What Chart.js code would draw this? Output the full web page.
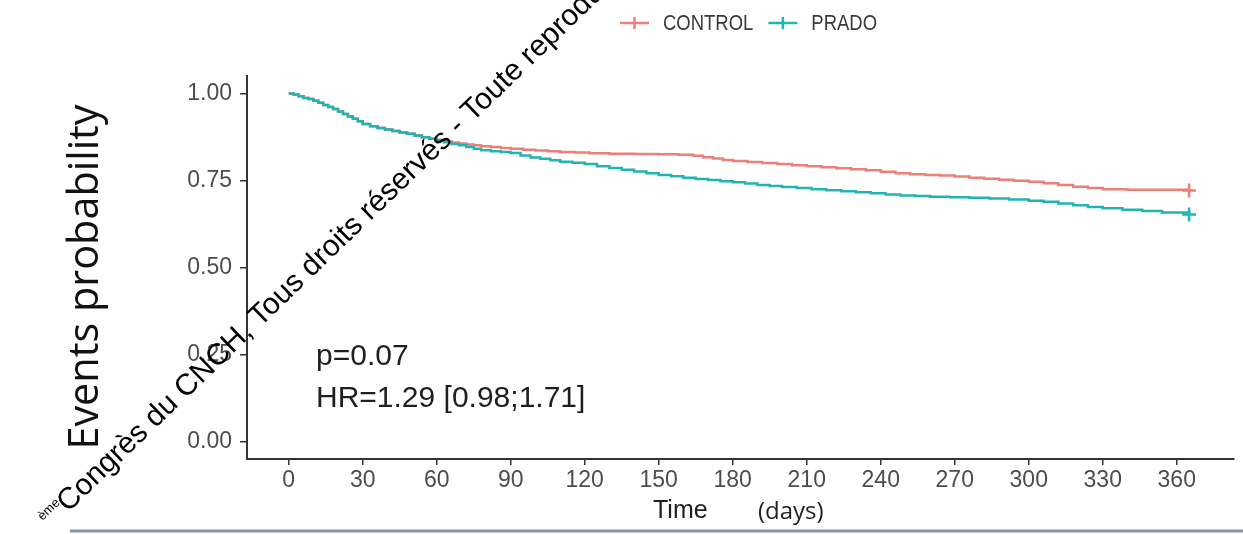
<!DOCTYPE html>
<html>
<head>
<meta charset="utf-8">
<script src="https://cdn.jsdelivr.net/npm/chart.js@4.4.0/dist/chart.umd.min.js"></script>
<style>
  html, body { margin: 0; padding: 0; background: #fff; }
  #wrap { width: 1243px; height: 534px; }
</style>
</head>
<body>
<div id="wrap"><canvas id="kmChart" width="1243" height="534"></canvas></div>
<script>
// Groups
const groupLabels = ['CONTROL', 'PRADO'];
const groupColors = ['#EC7F78', '#22B3B5'];

// CONTROL curve (days / probability)
const controlDays = [0, 2, 4, 6, 8, 10, 12, 14, 16, 18, 20, 22, 24, 26, 28, 30, 33, 36, 39, 42, 45, 48, 51, 54, 57, 60,
    63, 66, 69, 72, 75, 78, 82, 86, 90, 95, 100, 105, 110, 116, 122, 130, 140, 150, 158, 164, 168, 172, 176, 180,
    186, 192, 198, 204, 210, 216, 222, 228, 234, 240, 246, 252, 258, 264, 270, 276, 282, 288, 294, 300, 306, 312,
    318, 324, 330, 340, 365];
const controlProb = [1.000, 0.997, 0.992, 0.987, 0.984, 0.979, 0.973, 0.967, 0.961, 0.955, 0.948, 0.941, 0.934, 0.927, 0.920, 0.912, 0.906, 0.901, 0.896, 0.892, 0.888, 0.884, 0.879, 0.874, 0.870, 0.866,
    0.862, 0.859, 0.856, 0.853, 0.851, 0.848, 0.846, 0.843, 0.841, 0.838, 0.836, 0.834, 0.832, 0.830, 0.828, 0.827, 0.826, 0.825, 0.824, 0.821, 0.817, 0.813, 0.809, 0.806,
    0.803, 0.800, 0.797, 0.794, 0.791, 0.788, 0.785, 0.782, 0.779, 0.775, 0.771, 0.768, 0.766, 0.764, 0.761, 0.758, 0.755, 0.752, 0.749, 0.746, 0.742, 0.737,
    0.732, 0.728, 0.725, 0.723, 0.721];

// PRADO curve (days / probability)
const pradoDays = [0, 2, 4, 6, 8, 10, 12, 14, 16, 18, 20, 22, 24, 26, 28, 30, 33, 36, 39, 42, 45, 48, 51, 54, 57, 60,
    63, 66, 69, 72, 75, 78, 82, 86, 90, 94, 98, 102, 106, 110, 115, 120, 125, 130, 135, 140, 145, 150, 155, 160,
    165, 170, 175, 180, 185, 190, 195, 200, 206, 212, 218, 224, 230, 236, 242, 248, 254, 260, 268, 276, 284, 292,
    300, 306, 312, 318, 324, 330, 338, 346, 354, 365];
const pradoProb = [1.000, 0.997, 0.992, 0.987, 0.984, 0.979, 0.973, 0.967, 0.961, 0.955, 0.948, 0.941, 0.934, 0.927, 0.920, 0.912, 0.906, 0.901, 0.896, 0.892, 0.888, 0.884, 0.879, 0.874, 0.870, 0.866,
    0.860, 0.855, 0.851, 0.846, 0.841, 0.837, 0.834, 0.832, 0.829, 0.822, 0.816, 0.812, 0.808, 0.804, 0.801, 0.797, 0.791, 0.786, 0.781, 0.776, 0.771, 0.766, 0.762, 0.758,
    0.754, 0.751, 0.748, 0.745, 0.741, 0.737, 0.734, 0.731, 0.728, 0.725, 0.722, 0.719, 0.716, 0.713, 0.710, 0.707, 0.705, 0.703, 0.702, 0.700, 0.698, 0.695,
    0.692, 0.689, 0.684, 0.679, 0.674, 0.670, 0.666, 0.662, 0.658, 0.652];

// Axis ticks
const xTicks = [0, 30, 60, 90, 120, 150, 180, 210, 240, 270, 300, 330, 360];
const yTicks = [0, 0.25, 0.5, 0.75, 1];

// Texts
const statLines = ['p=0.07', 'HR=1.29 [0.98;1.71]'];
const xTitle = ['Time', '(days)'];
const yTitle = 'Events probability';
const watermarkText = 'Congrès du CNCH, Tous droits réservés - Toute reproduction partielle ou totale interdite';

function toPoints(days, prob) {
    return days.map((d, i) => ({ x: d, y: prob[i] }));
}

// censor mark only on the last point
function lastOnly(size) {
    return ctx => ctx.dataIndex === ctx.dataset.data.length - 1 ? size : 0;
}

// extra drawing : legend, titles, annotation, watermark
const decorations = {
    id: 'decorations',
    afterDraw(chart) {
        const c = chart.ctx;
        c.save();

        // legend on top (text a bit condensed like the original)
        let lx = 620;
        const ly = 23;
        const squeeze = 0.84;
        c.font = '22px "Liberation Sans", Arial, sans-serif';
        c.textBaseline = 'middle';
        groupLabels.forEach((lab, i) => {
            c.strokeStyle = groupColors[i];
            c.lineWidth = 2.5;
            c.beginPath();
            c.moveTo(lx, ly);
            c.lineTo(lx + 29, ly);
            c.moveTo(lx + 14.5, ly - 6);
            c.lineTo(lx + 14.5, ly + 6);
            c.stroke();
            c.save();
            c.translate(lx + 43, ly + 1);
            c.scale(squeeze, 1);
            c.fillStyle = '#3a3a3a';
            c.fillText(lab, 0, 0);
            c.restore();
            lx += 43 + c.measureText(lab).width * squeeze + 15;
        });

        // p value and HR
        c.fillStyle = '#1f1f1f';
        c.textBaseline = 'alphabetic';
        c.font = '30px "Liberation Sans", Arial, sans-serif';
        c.fillText(statLines[0], 316, 365);
        c.fillText(statLines[1], 316, 407);

        // y title
        c.save();
        c.font = '40px "Open Sans", sans-serif';
        const w = c.measureText(yTitle).width;
        const size = 40 * 345 / w;
        c.font = size.toFixed(1) + 'px "Open Sans", sans-serif';
        c.translate(98, 277);
        c.rotate(-Math.PI / 2);
        c.textAlign = 'center';
        c.fillStyle = '#111';
        c.fillText(yTitle, 0, 0);
        c.restore();

        // x title
        c.fillStyle = '#1f1f1f';
        c.font = '25px "Liberation Sans", Arial, sans-serif';
        c.fillText(xTitle[0], 653, 518);
        c.font = '24px "Open Sans", sans-serif';
        c.fillText(xTitle[1], 758, 519);

        // bottom rule
        c.strokeStyle = '#8193ad';
        c.lineWidth = 3;
        c.beginPath();
        c.moveTo(70, 531);
        c.lineTo(1243, 531);
        c.stroke();

        // black diagonal watermark
        c.save();
        c.translate(68, 513);
        c.rotate(-44 * Math.PI / 180);
        c.fillStyle = '#000';
        c.font = '13px "Liberation Sans", Arial, sans-serif';
        c.fillText('ème', -24, -12);
        c.font = '30px "Liberation Sans", Arial, sans-serif';
        c.fillText(watermarkText, 0, 0);
        c.restore();

        c.restore();
    }
};

const ctx = document.getElementById('kmChart').getContext('2d');
const kmChart = new Chart(ctx, {
    type: 'line',
    data: {
        datasets: [{
            label: groupLabels[1],
            data: toPoints(pradoDays, pradoProb),
            borderColor: groupColors[1],
            backgroundColor: groupColors[1],
            borderWidth: 2.5,
            stepped: true,
            pointStyle: 'cross',
            pointRadius: lastOnly(7),
            pointBorderWidth: 2.5,
            pointHoverRadius: 0,
            order: 0
        }, {
            label: groupLabels[0],
            data: toPoints(controlDays, controlProb),
            borderColor: groupColors[0],
            backgroundColor: groupColors[0],
            borderWidth: 2.5,
            stepped: true,
            pointStyle: 'cross',
            pointRadius: lastOnly(7),
            pointBorderWidth: 2.5,
            pointHoverRadius: 0,
            order: 1
        }]
    },
    options: {
        responsive: false,
        animation: false,
        devicePixelRatio: 1,
        layout: { padding: { left: 0, top: 76, right: 3, bottom: 0 } },
        plugins: {
            legend: { display: false },
            tooltip: { enabled: false }
        },
        scales: {
            x: {
                type: 'linear',
                min: -16.9,
                max: 383,
                afterFit: s => { s.height = 75; },
                afterBuildTicks: s => { s.ticks = xTicks.map(v => ({ value: v })); },
                border: { display: true, color: '#333', width: 2 },
                grid: { drawOnChartArea: false, drawTicks: true, tickLength: 6, color: '#333', lineWidth: 1.5 },
                ticks: {
                    padding: 2,
                    maxRotation: 0,
                    autoSkip: false,
                    color: '#4d4d4d',
                    font: { family: '"Liberation Sans", Arial, sans-serif', size: 23 },
                    callback: v => String(v)
                }
            },
            y: {
                type: 'linear',
                min: -0.05,
                max: 1.05,
                afterFit: s => { s.width = 247; },
                afterBuildTicks: s => { s.ticks = yTicks.map(v => ({ value: v })); },
                border: { display: true, color: '#333', width: 2 },
                grid: { drawOnChartArea: false, drawTicks: true, tickLength: 7, color: '#333', lineWidth: 1.5 },
                ticks: {
                    padding: 8,
                    color: '#4d4d4d',
                    font: { family: '"Liberation Sans", Arial, sans-serif', size: 23 },
                    callback: v => Number(v).toFixed(2)
                }
            }
        }
    },
    plugins: [decorations]
});
</script>
</body>
</html>
